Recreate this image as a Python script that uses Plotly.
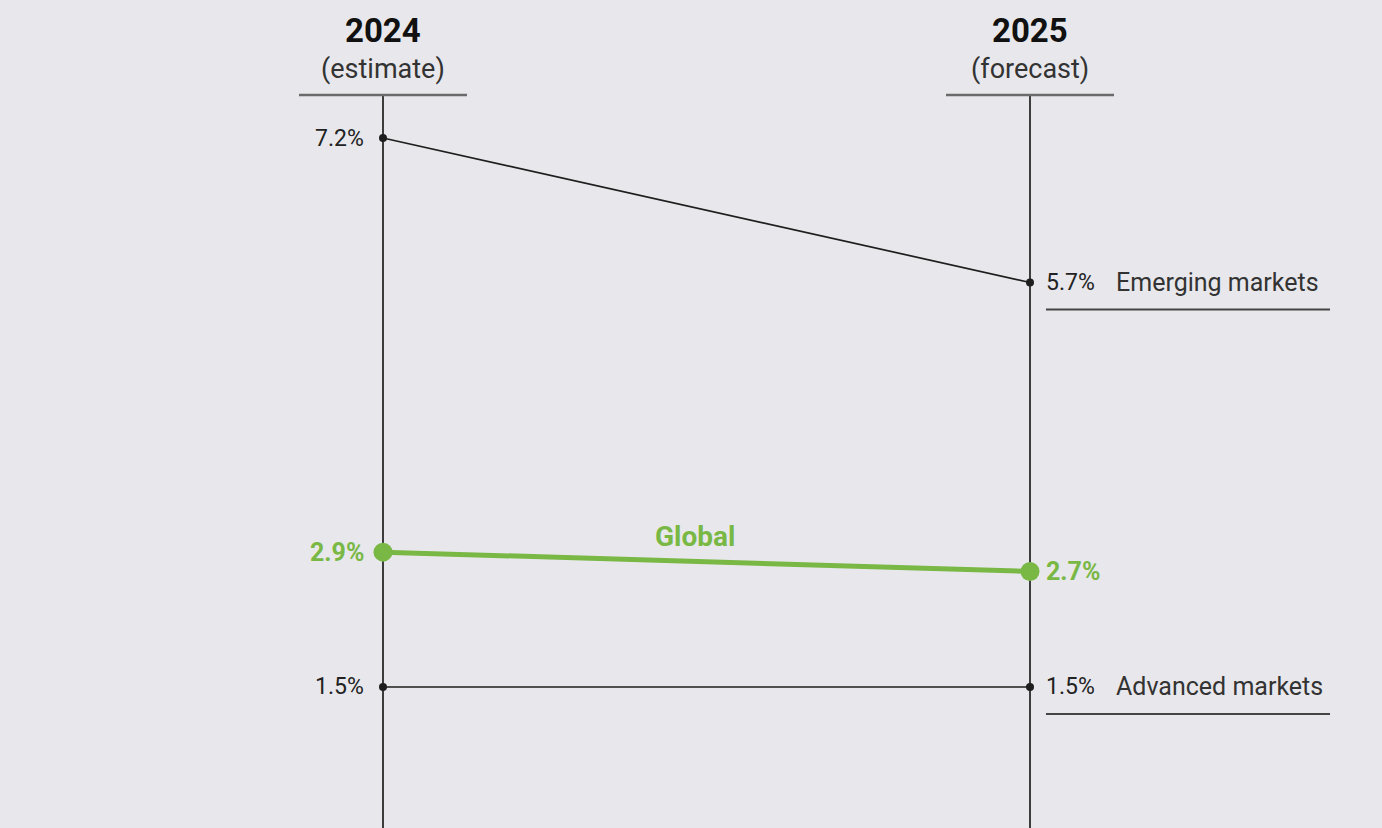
import plotly.graph_objects as go

# ---- data ----
years = [2024, 2025]
year_titles = ["2024", "2025"]
year_subtitles = ["(estimate)", "(forecast)"]
series_names = ["Emerging markets", "Global", "Advanced markets"]
emerging = [7.2, 5.7]
global_ = [2.9, 2.7]
advanced = [1.5, 1.5]

BG = "#e8e8ec"
GREEN = "#79b845"
DARK = "#1e1e1e"
FONT = "Roboto, 'Liberation Sans Narrow', Arial, sans-serif"

W, H = 1382, 828
# axis ranges chosen so that the layout fills the window
x_range = [2024 - 383 / 647, 2024 + (W - 383) / 647]
y_range = [1.5 - (H - 687) / 96.3, 7.2 + 138 / 96.3]

fig = go.Figure()

# vertical year axes
for yr in years:
    fig.add_shape(type="line", x0=yr, x1=yr, y0=7.2 + 43 / 96.3, y1=y_range[0] - 0.5,
                  xref="x", yref="y", line=dict(color=DARK, width=1.7), layer="below")
    # header underline
    fig.add_shape(type="line", x0=yr - 84 / 647, x1=yr + 84 / 647,
                  y0=7.2 + 43 / 96.3, y1=7.2 + 43 / 96.3,
                  xref="x", yref="y", line=dict(color="#6a6a6a", width=2.5))

# black series
for vals in (emerging, advanced):
    fig.add_trace(go.Scatter(x=years, y=vals, mode="lines+markers",
                             line=dict(color=DARK, width=1.7),
                             marker=dict(color=DARK, size=8),
                             hoverinfo="skip", showlegend=False))
# global
fig.add_trace(go.Scatter(x=years, y=global_, mode="lines+markers",
                         line=dict(color=GREEN, width=5),
                         marker=dict(color=GREEN, size=19),
                         hoverinfo="skip", showlegend=False))

ann = []
# headers
for yr, t, s in zip(years, year_titles, year_subtitles):
    ann.append(dict(x=yr, y=1 - 31 / H, xref="x", yref="paper", text=f"<b>{t}</b>",
                    showarrow=False, font=dict(family=FONT, size=33, color="#111"),
                    xanchor="center", yanchor="middle"))
    ann.append(dict(x=yr, y=1 - 69 / H, xref="x", yref="paper", text=s,
                    showarrow=False, font=dict(family=FONT, size=27, color="#333"),
                    xanchor="center", yanchor="middle"))

# value labels
for vals, col, bold in ((emerging, "#222", False), (global_, GREEN, True), (advanced, "#222", False)):
    size = 25 if bold else 23
    for i, (anchor, shift) in enumerate((("right", -17), ("left", 14))):
        txt = f"{vals[i]:.1f}%"
        if bold:
            txt = f"<b>{txt}</b>"
        ann.append(dict(x=years[i], y=vals[i], xref="x", yref="y", text=txt, showarrow=False,
                        xanchor=anchor, yanchor="middle", xshift=shift,
                        font=dict(family=FONT, size=size, color=col)))

# series names at right
for vals, name in ((emerging, series_names[0]), (advanced, series_names[2])):
    ann.append(dict(x=years[1], y=vals[1], xref="x", yref="y", text=name, showarrow=False,
                    xanchor="left", yanchor="middle", xshift=84,
                    font=dict(family=FONT, size=25, color="#333")))
    fig.add_shape(type="line", x0=years[1] + 16 / 647, x1=years[1] + 300 / 647,
                  y0=vals[1] - 27 / 96.3, y1=vals[1] - 27 / 96.3,
                  xref="x", yref="y", line=dict(color="#444", width=2))

# Global label
ann.append(dict(x=(years[0] + years[1]) / 2 - 0.018, y=(global_[0] + global_[1]) / 2, xref="x", yref="y",
                text=f"<b>{series_names[1]}</b>", showarrow=False, yanchor="bottom", yshift=7,
                font=dict(family=FONT, size=28, color=GREEN)))

fig.update_layout(
    width=W, height=H, margin=dict(l=0, r=0, t=0, b=0),
    paper_bgcolor=BG, plot_bgcolor=BG,
    xaxis=dict(range=x_range, visible=False, fixedrange=True),
    yaxis=dict(range=y_range, visible=False, fixedrange=True),
    annotations=ann, showlegend=False,
)

fig.write_html("out.html", config={"displayModeBar": False})
